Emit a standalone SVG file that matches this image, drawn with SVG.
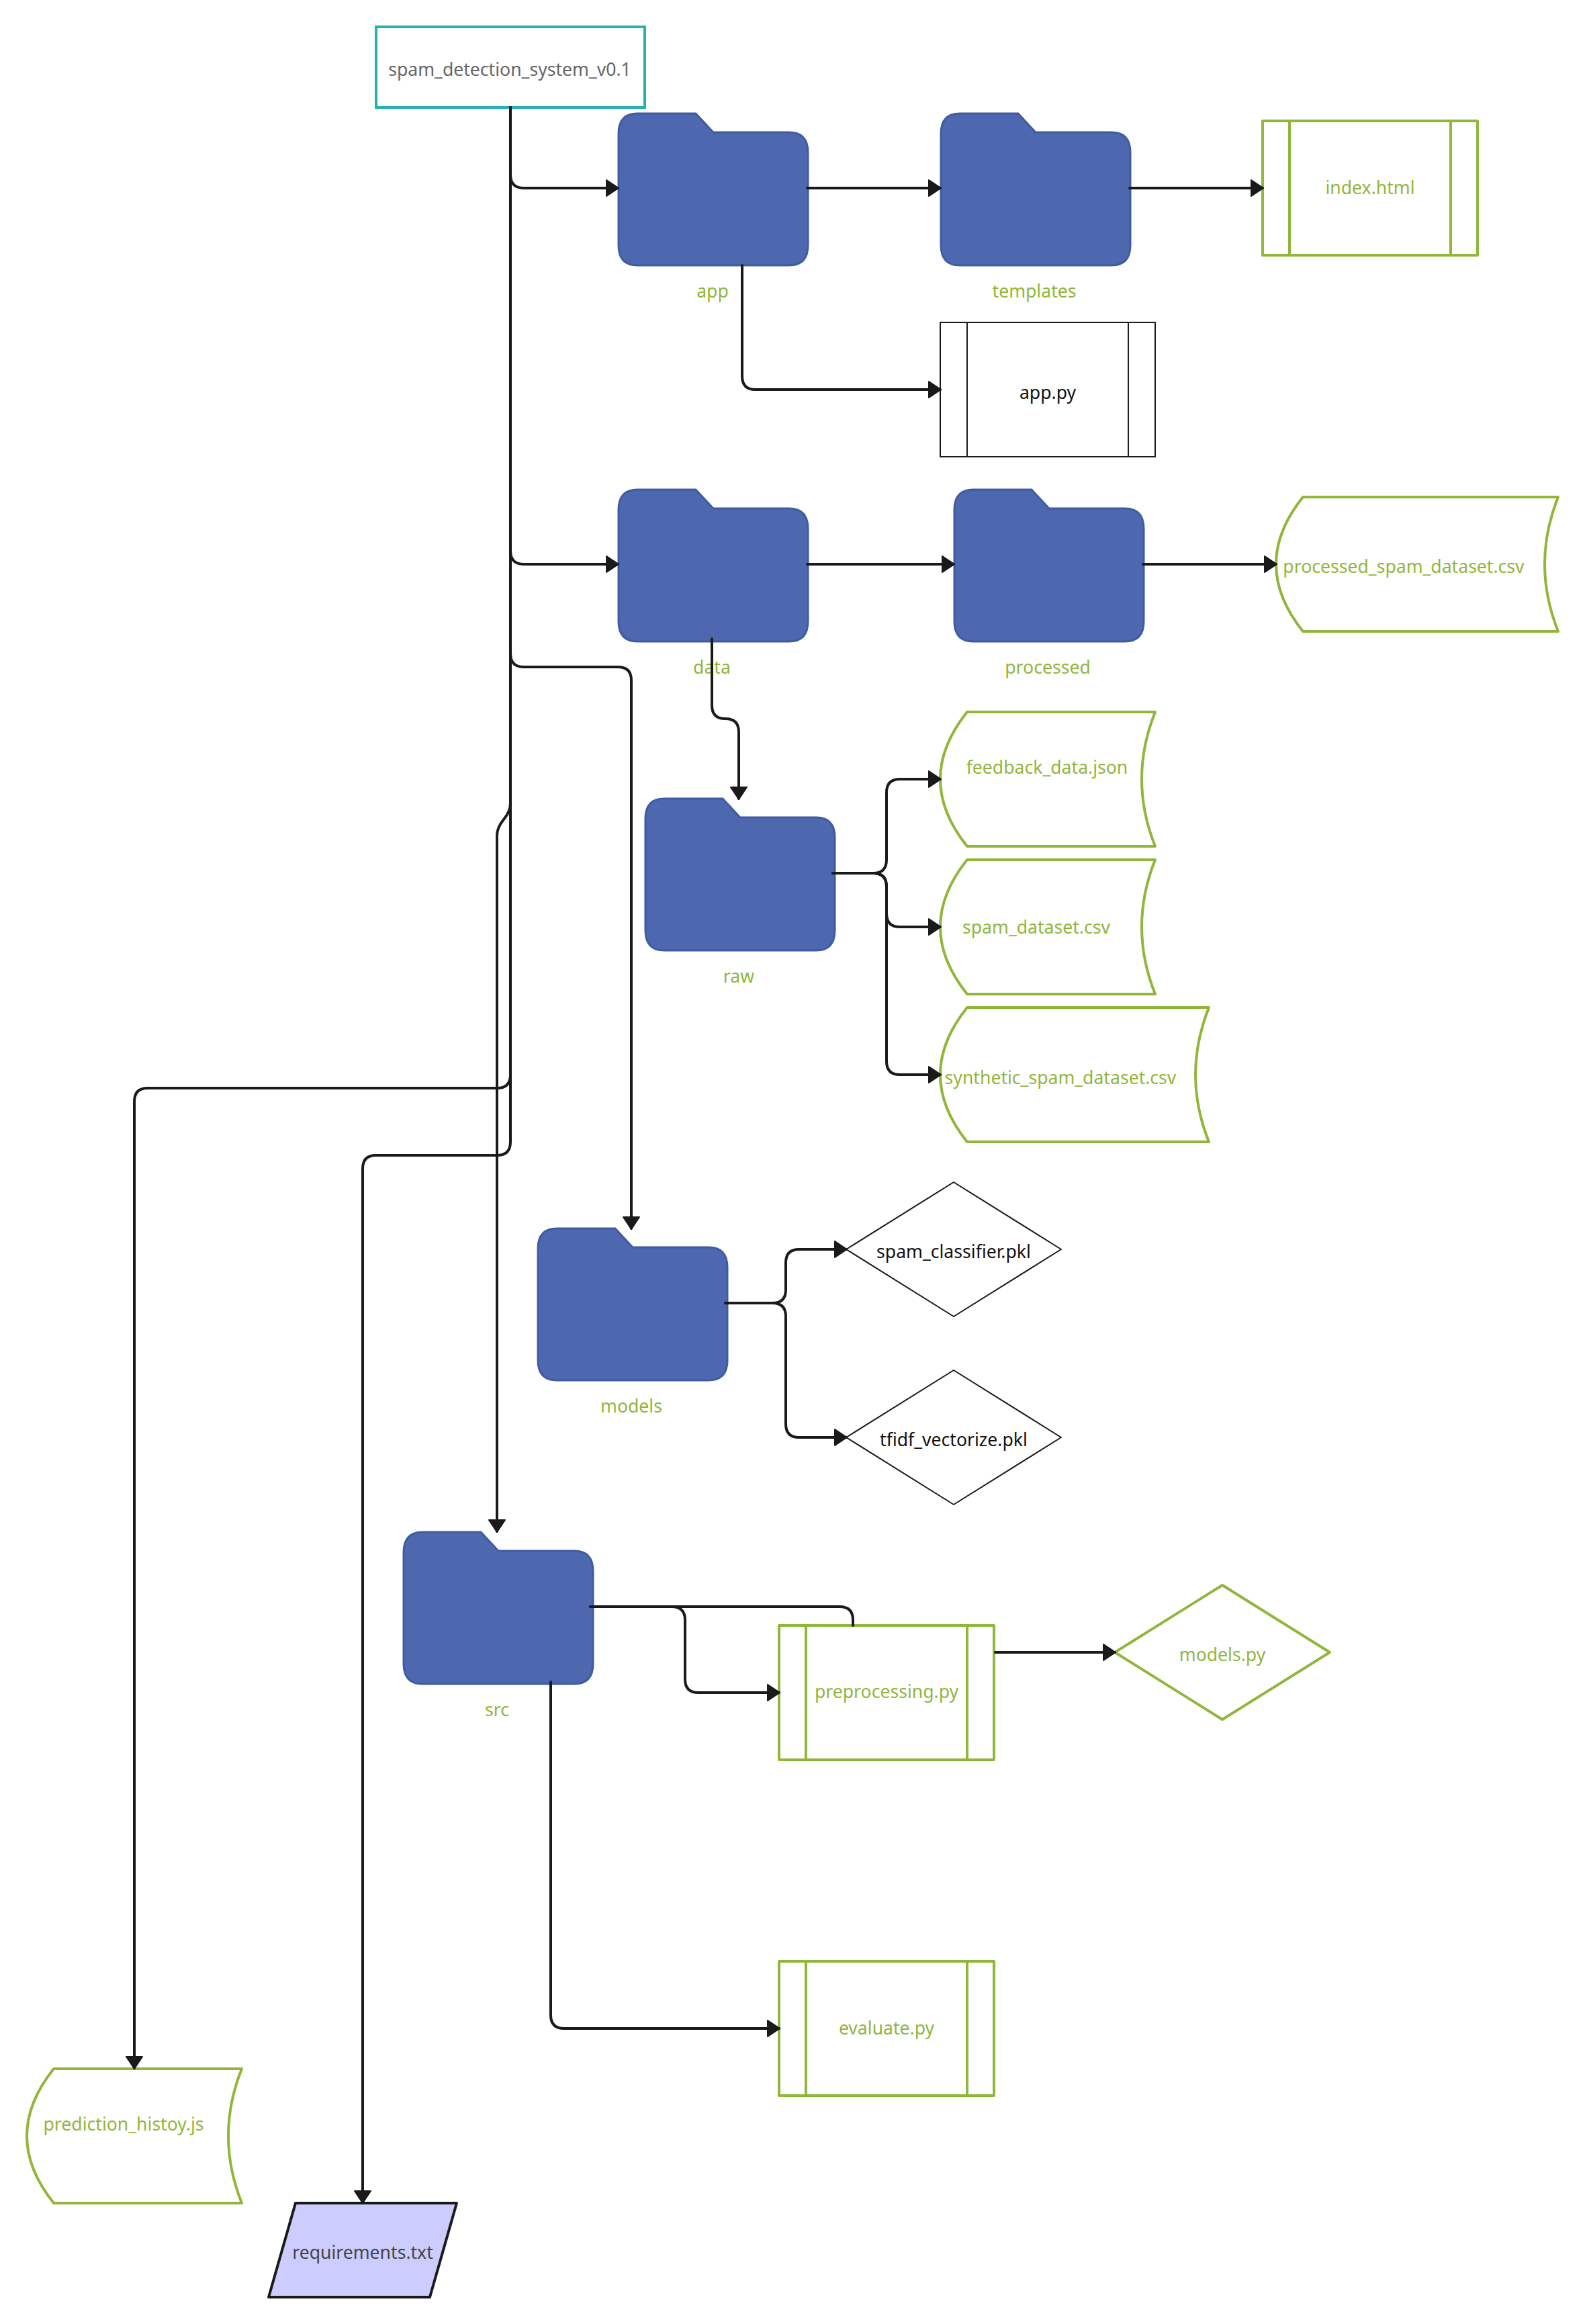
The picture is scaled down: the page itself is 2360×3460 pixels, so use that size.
<svg xmlns="http://www.w3.org/2000/svg" width="2360" height="3460" viewBox="0 0 2360 3460">
<defs>
<marker id="arrow" viewBox="0 0 20 26" refX="18" refY="13" markerWidth="20" markerHeight="26" markerUnits="userSpaceOnUse" orient="auto">
<path d="M1 1 L19 13 L1 25 Z" fill="#1a1a1a" stroke="#1a1a1a" stroke-width="2" stroke-linejoin="round"/>
</marker>
<path id="folder" d="M28 0 H115 L141 28 H254 Q282 28 282 58 V196 Q282 226 254 226 H28 Q0 226 0 196 V30 Q0 0 28 0 Z"/>
</defs>
<style>
text{font-family:"Noto Sans","Open Sans",sans-serif;font-size:26.6px;text-anchor:middle}
.g{fill:#90b63c}
.k{fill:#111}
.folder{fill:#4e68b0;stroke:#3f5ba3;stroke-width:3}
.file{fill:#fff;stroke:#90b63c;stroke-width:4;stroke-linejoin:round}
.thin{fill:#fff;stroke:#1a1a1a;stroke-width:2;stroke-linejoin:round}
.e{fill:none;stroke:#1a1a1a;stroke-width:4;stroke-linejoin:round;stroke-linecap:round}
.a{marker-end:url(#arrow)}
</style>
<g id="root"><rect x="560" y="40" width="400" height="120" fill="#fff" stroke="#26b0b0" stroke-width="4"/><text x="759" y="113" fill="#666">spam_detection_system_v0.1</text></g>
<g id="app"><use href="#folder" x="921" y="169" class="folder"/><text x="1061" y="443" class="g">app</text></g>
<g id="templates"><use href="#folder" x="1401" y="169" class="folder"/><text x="1540" y="443" class="g">templates</text></g>
<g id="index"><path class="file" d="M1880 180 H2200 V380 H1880 Z M1920 180 V380 M2160 180 V380"/><text x="2040" y="289" class="g">index.html</text></g>
<g id="apppy"><path class="thin" d="M1400 480 H1720 V680 H1400 Z M1440 480 V680 M1680 480 V680"/><text x="1560" y="594" class="k">app.py</text></g>
<g id="data"><use href="#folder" x="921" y="729" class="folder"/><text x="1060" y="1003" class="g">data</text></g>
<g id="processed"><use href="#folder" x="1421" y="729" class="folder"/><text x="1560" y="1003" class="g">processed</text></g>
<g id="processedcsv"><path class="file" d="M1940 740 H2320 Q2280 840 2320 940 H1940 Q1860 840 1940 740 Z"/><text x="2090" y="853" class="g">processed_spam_dataset.csv</text></g>
<g id="raw"><use href="#folder" x="961" y="1189" class="folder"/><text x="1100" y="1463" class="g">raw</text></g>
<g id="feedback"><path class="file" d="M1440 1060 H1720 Q1680 1160 1720 1260 H1440 Q1360 1160 1440 1060 Z"/><text x="1559" y="1152" class="g">feedback_data.json</text></g>
<g id="spamcsv"><path class="file" d="M1440 1280 H1720 Q1680 1380 1720 1480 H1440 Q1360 1380 1440 1280 Z"/><text x="1543" y="1390" class="g">spam_dataset.csv</text></g>
<g id="synthetic"><path class="file" d="M1440 1500 H1800 Q1760 1600 1800 1700 H1440 Q1360 1600 1440 1500 Z"/><text x="1579" y="1614" class="g">synthetic_spam_dataset.csv</text></g>
<g id="models"><use href="#folder" x="801" y="1829" class="folder"/><text x="940" y="2103" class="g">models</text></g>
<g id="classifier"><path class="thin" d="M1420 1760 L1580 1860 L1420 1960 L1260 1860 Z"/><text x="1420" y="1873" class="k">spam_classifier.pkl</text></g>
<g id="tfidf"><path class="thin" d="M1420 2040 L1580 2140 L1420 2240 L1260 2140 Z"/><text x="1420" y="2153" class="k">tfidf_vectorize.pkl</text></g>
<g id="src"><use href="#folder" x="601" y="2281" class="folder"/><text x="740" y="2555" class="g">src</text></g>
<g id="preprocessing"><path class="file" d="M1160 2420 H1480 V2620 H1160 Z M1200 2420 V2620 M1440 2420 V2620"/><text x="1320" y="2528" class="g">preprocessing.py</text></g>
<g id="modelspy"><path class="file" d="M1820 2360 L1980 2460 L1820 2560 L1660 2460 Z"/><text x="1820" y="2473" class="g">models.py</text></g>
<g id="evaluate"><path class="file" d="M1160 2920 H1480 V3120 H1160 Z M1200 2920 V3120 M1440 2920 V3120"/><text x="1320" y="3029" class="g">evaluate.py</text></g>
<g id="prediction"><path class="file" d="M80 3080 H360 Q320 3180 360 3280 H80 Q0 3180 80 3080 Z"/><text x="184" y="3172" class="g">prediction_histoy.js</text></g>
<g id="requirements"><path d="M440 3280 H680 L640 3420 H400 Z" fill="#ccccff" stroke="#1a1a1a" stroke-width="4" stroke-linejoin="round"/><text x="540" y="3363" fill="#444">requirements.txt</text></g>
<g id="connectors">
<path class="e a" d="M760 160 V260 Q760 280 780 280 H920"/>
<path class="e a" d="M760 160 V820 Q760 840 780 840 H920"/>
<path class="e a" d="M760 160 V973 Q760 993 780 993 H920 Q940 993 940 1013 V1829"/>
<path class="e a" d="M760 160 V1196 Q760 1208 750 1220 Q740 1232 740 1244 V2280"/>
<path class="e a" d="M760 160 V1600 Q760 1620 740 1620 H220 Q200 1620 200 1640 V3079"/>
<path class="e a" d="M760 160 V1700 Q760 1720 740 1720 H560 Q540 1720 540 1740 V3279"/>
<path class="e a" d="M1202 280 H1400"/>
<path class="e a" d="M1682 280 H1880"/>
<path class="e a" d="M1105 395 V560 Q1105 580 1125 580 H1400"/>
<path class="e a" d="M1202 840 H1420"/>
<path class="e a" d="M1702 840 H1900"/>
<path class="e a" d="M1060 951 V1050 Q1060 1070 1080 1070 Q1100 1070 1100 1090 V1189"/>
<path class="e a" d="M1240 1300 H1300 Q1320 1300 1320 1280 V1180 Q1320 1160 1340 1160 H1400"/>
<path class="e a" d="M1240 1300 H1300 Q1320 1300 1320 1320 V1360 Q1320 1380 1340 1380 H1400"/>
<path class="e a" d="M1240 1300 H1300 Q1320 1300 1320 1320 V1580 Q1320 1600 1340 1600 H1400"/>
<path class="e a" d="M1080 1940 H1150 Q1170 1940 1170 1920 V1880 Q1170 1860 1190 1860 H1260"/>
<path class="e a" d="M1080 1940 H1150 Q1170 1940 1170 1960 V2120 Q1170 2140 1190 2140 H1260"/>
<path class="e a" d="M879 2392 H1000 Q1020 2392 1020 2412 V2500 Q1020 2520 1040 2520 H1160"/>
<path class="e" d="M879 2392 H1250 Q1270 2392 1270 2412 V2420"/>
<path class="e a" d="M1482 2460 H1660"/>
<path class="e a" d="M820 2504 V3000 Q820 3020 840 3020 H1160"/>
</g>
</svg>
